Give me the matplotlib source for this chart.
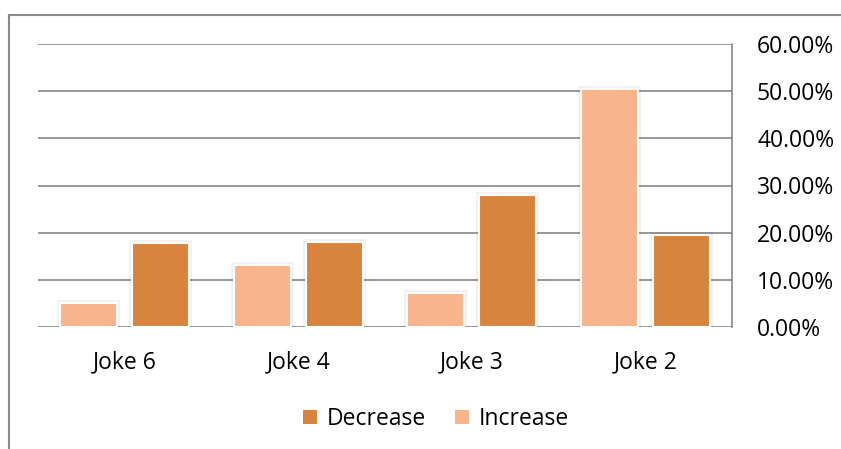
import matplotlib
matplotlib.use("Agg")
import matplotlib.pyplot as plt
from matplotlib.lines import Line2D
from matplotlib.patches import Patch
import numpy as np

categories = ["Joke 6", "Joke 4", "Joke 3", "Joke 2"]
increase = [0.051, 0.132, 0.072, 0.505]
decrease = [0.179, 0.180, 0.280, 0.195]
y_ticks = [0.0, 0.1, 0.2, 0.3, 0.4, 0.5, 0.6]

c_dec = "#D9843E"
c_inc = "#F8B48C"
grid_c = "#868686"

plt.rcParams["font.family"] = ["Open Sans", "DejaVu Sans"]
FS = 16.5

W, H = 841, 449
fig = plt.figure(figsize=(W / 100, H / 100), dpi=100)
ax = fig.add_axes([38 / W, 1 - 327 / H, (732 - 38) / W, (327 - 44) / H])

x = np.arange(len(categories))
bw = 0.33
off = 0.207

for xs, vals, col in [(x - off, increase, c_inc), (x + off, decrease, c_dec)]:
    # soft shadow behind each bar
    ax.bar(xs, vals, width=bw, color="none", edgecolor=(0, 0, 0, 0.06),
           linewidth=4, zorder=2)
    ax.bar(xs, vals, width=bw, color=col, edgecolor="white",
           linewidth=1.5, zorder=3)

ax.set_xlim(-0.5, len(categories) - 0.5)
ax.set_ylim(0, 0.6)
ax.set_yticks(y_ticks)
ax.set_yticklabels([f"{v * 100:.2f}%" for v in y_ticks])
ax.yaxis.tick_right()
ax.tick_params(axis="y", length=0, pad=18, labelsize=FS, labelcolor="#000000")
ax.set_xticks(x)
ax.set_xticklabels(categories)
ax.tick_params(axis="x", length=0, pad=17, labelsize=FS, labelcolor="#000000")

ax.grid(axis="y", color=grid_c, linewidth=1.2, zorder=1)
ax.set_axisbelow(True)
for s in ["left", "top", "bottom"]:
    ax.spines[s].set_visible(False)
ax.spines["right"].set_color(grid_c)
ax.spines["right"].set_linewidth(1.2)

handles = [Patch(facecolor=c_dec, edgecolor="none", label="Decrease"),
           Patch(facecolor=c_inc, edgecolor="none", label="Increase")]
fig.legend(handles=handles, loc="center", bbox_to_anchor=(436 / W, 1 - 419 / H),
           ncol=2, frameon=False, fontsize=FS, handlelength=0.6, handleheight=0.6,
           handletextpad=0.4, columnspacing=1.3)

# chart frame edges
fig.add_artist(Line2D([9 / W, 1], [1 - 15 / H, 1 - 15 / H], transform=fig.transFigure,
                      color="#8a8a8a", linewidth=1.5))
fig.add_artist(Line2D([9 / W, 9 / W], [0, 1 - 15 / H], transform=fig.transFigure,
                      color="#8a8a8a", linewidth=1.5))

fig.savefig("out.png", dpi=100)
